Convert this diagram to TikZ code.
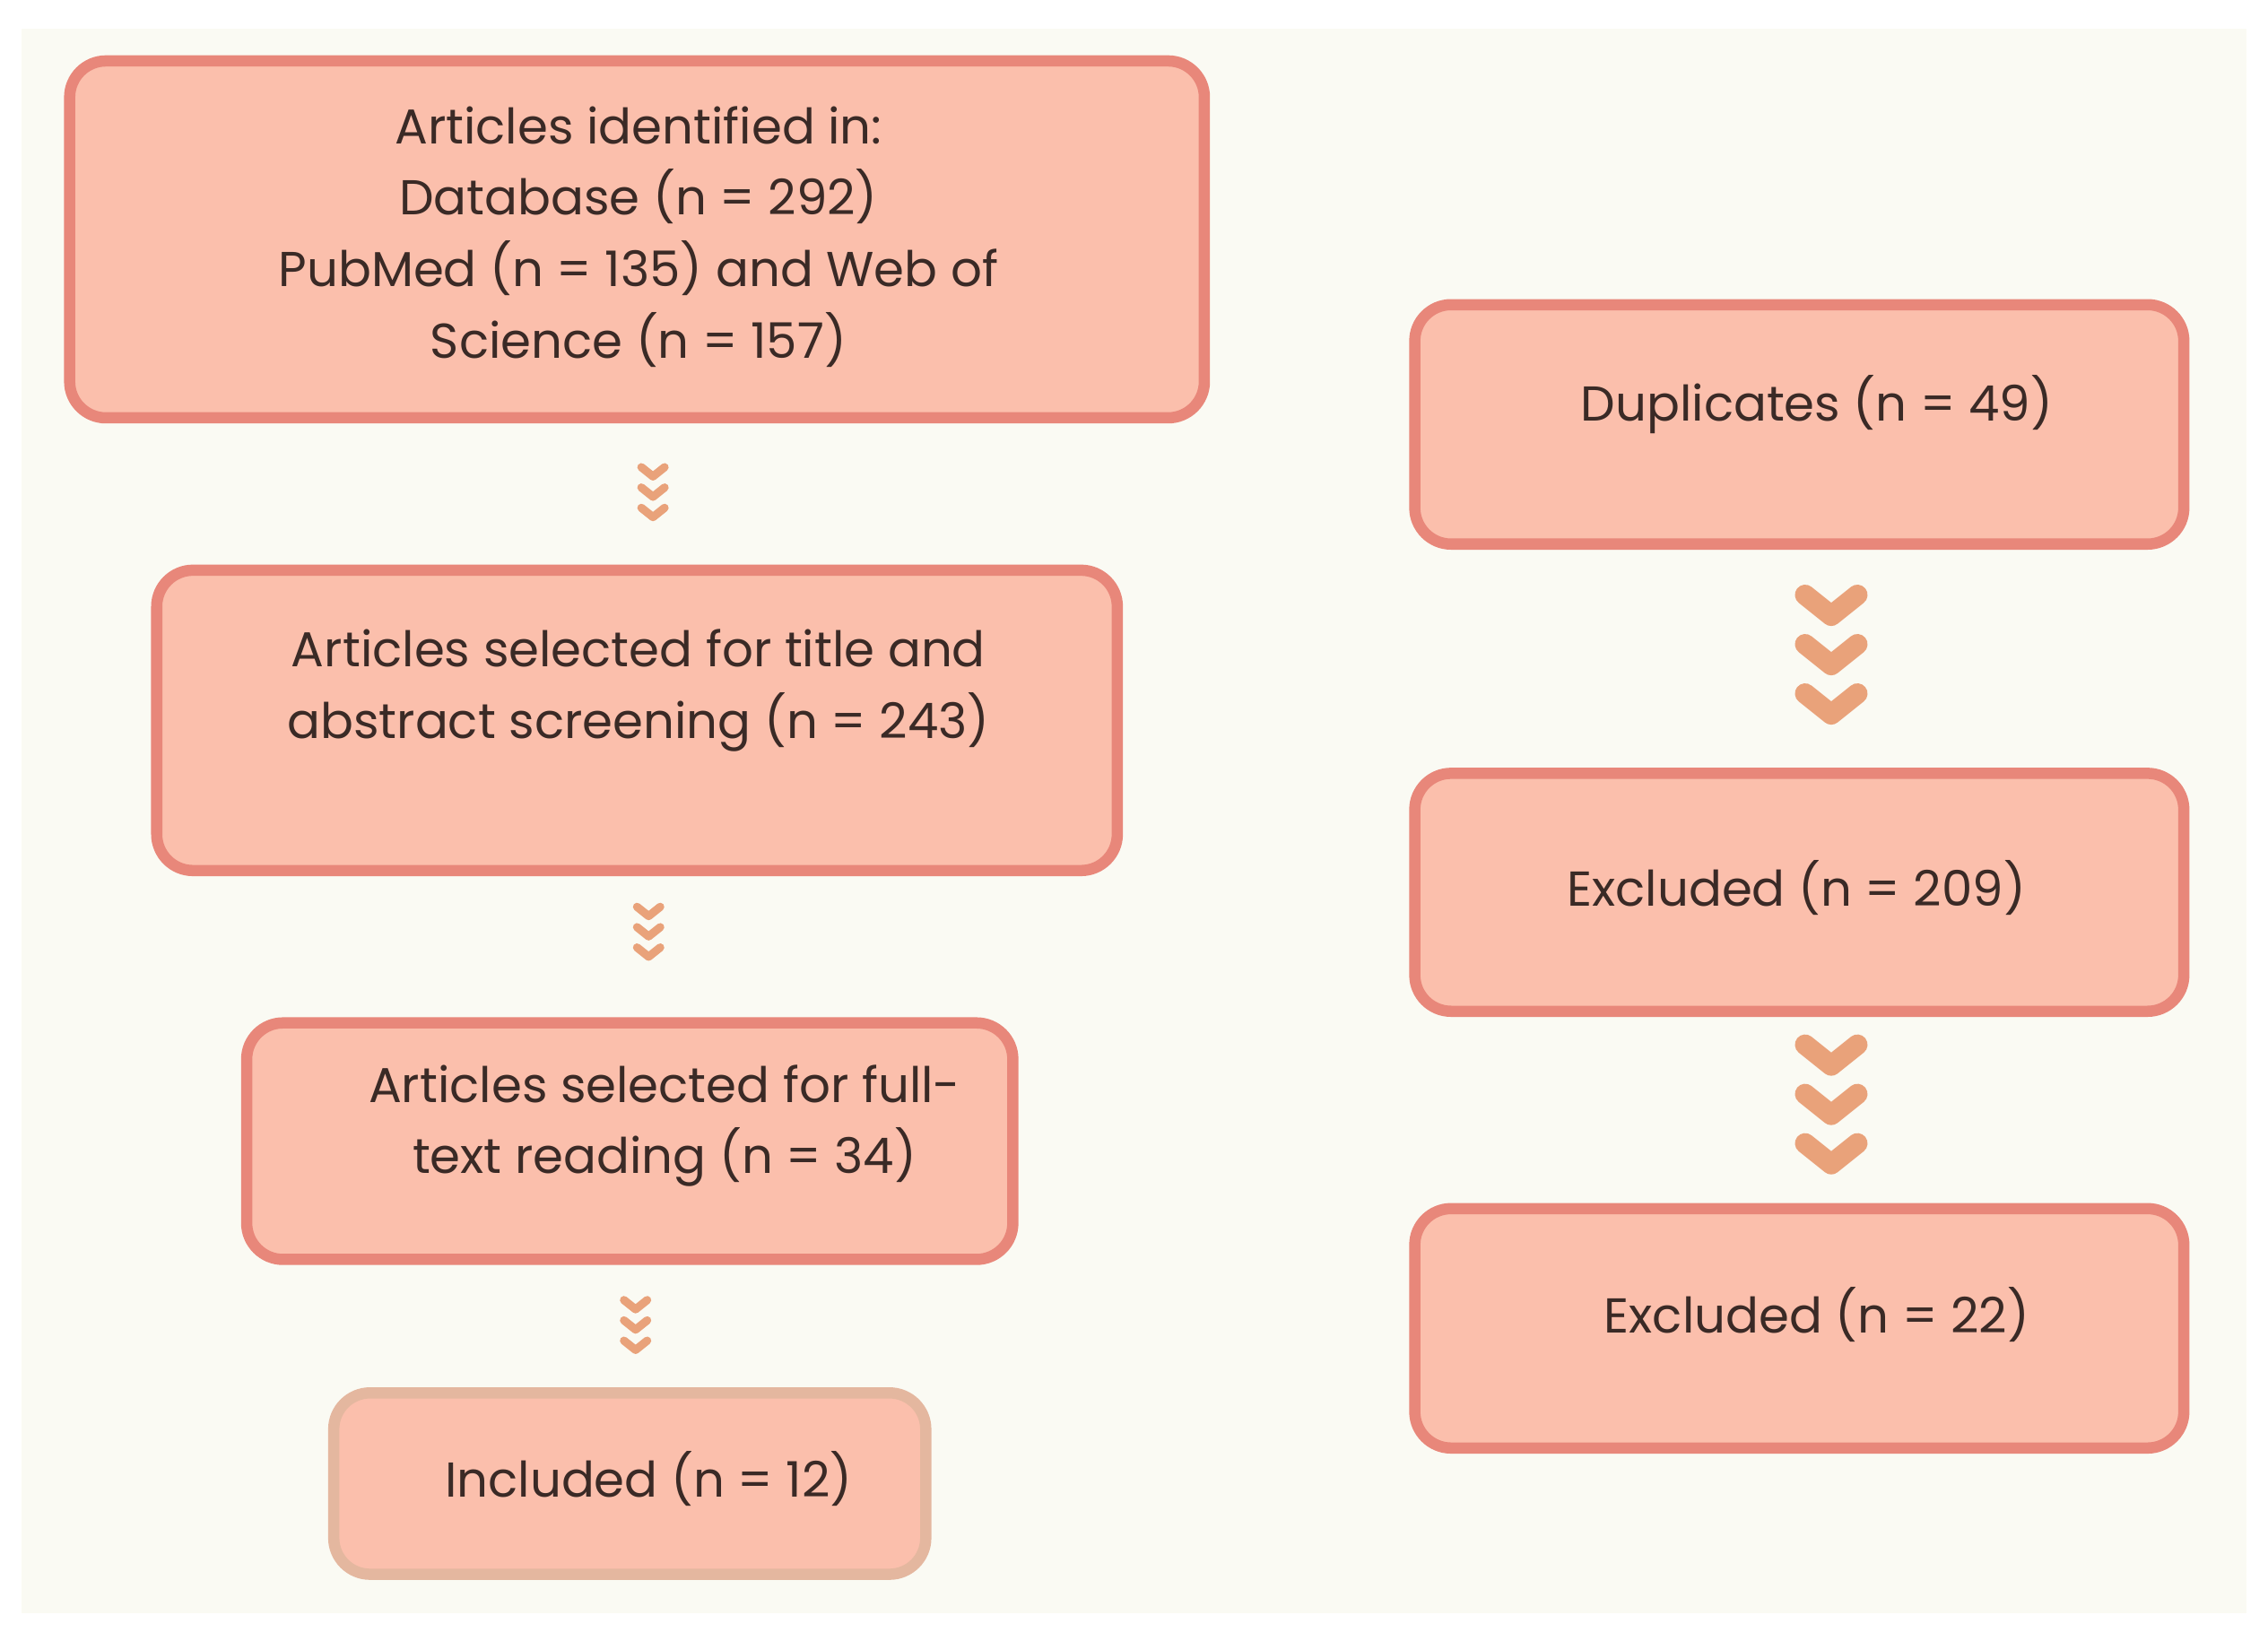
\documentclass[tikz,border=0pt]{standalone}
\usepackage{fontspec}
\setmainfont{Poppins}
\definecolor{boxfill}{HTML}{FBBFAC}
\definecolor{boxline}{HTML}{E8877A}
\definecolor{boxline2}{HTML}{E4B79F}
\definecolor{chev}{HTML}{E9A27A}
\definecolor{bgc}{HTML}{FAFAF3}
\definecolor{txt}{HTML}{3A2A26}
\begin{document}
\begin{tikzpicture}[x=0.01cm,y=-0.01cm,
  box/.style={draw=boxline,line width=2.2pt,fill=boxfill,rounded corners=0.25cm},
  lbl/.style={text=txt,font=\fontsize{9.6}{14}\selectfont,align=center},
  pics/chevs/.style n args={3}{code={
    \foreach \k in {0,1,2}
      \draw[chev,line width=#3,line cap=round,line join=round]
        (-#1,\k*#2) -- (0,\k*#2+#1*0.8) -- (#1,\k*#2);}}]
\useasboundingbox (0,0) rectangle (1563,1131);
\fill[white] (0,0) rectangle (1563,1131);
\fill[bgc] (15,20) rectangle (1548,1112);
\draw[box] (48,42) rectangle (830,288);
\node[lbl] (a) at (440,163) {Articles identified in:\\Database (n = 292)\\PubMed (n = 135) and Web of\\Science (n = 157)};
\draw[box] (108,393) rectangle (770,600);
\node[lbl] (b) at (440,476) {Articles selected for title and\\abstract screening (n = 243)};
\draw[box] (170,705) rectangle (698,868);
\node[lbl] (c) at (458,776) {Articles selected for full-\\text reading (n = 34)};
\draw[box,draw=boxline2] (230,960) rectangle (638,1085);
\node[lbl] (d) at (447,1019) {Included (n = 12)};
\draw[box] (975,210) rectangle (1505,375);
\node[lbl] (e) at (1252,279) {Duplicates (n = 49)};
\draw[box] (975,533) rectangle (1505,697);
\node[lbl] (f) at (1238,612) {Excluded (n = 209)};
\draw[box] (975,833) rectangle (1505,998);
\node[lbl] (g) at (1252,906) {Excluded (n = 22)};
\pic at (450,322) {chevs={8}{14}{1.6pt}};
\pic at (447,625) {chevs={8}{14}{1.6pt}};
\pic at (438,896) {chevs={8}{14}{1.6pt}};
\pic at (1262,410) {chevs={18}{34}{4pt}};
\pic at (1262,720) {chevs={18}{34}{4pt}};
\end{tikzpicture}
\end{document}
